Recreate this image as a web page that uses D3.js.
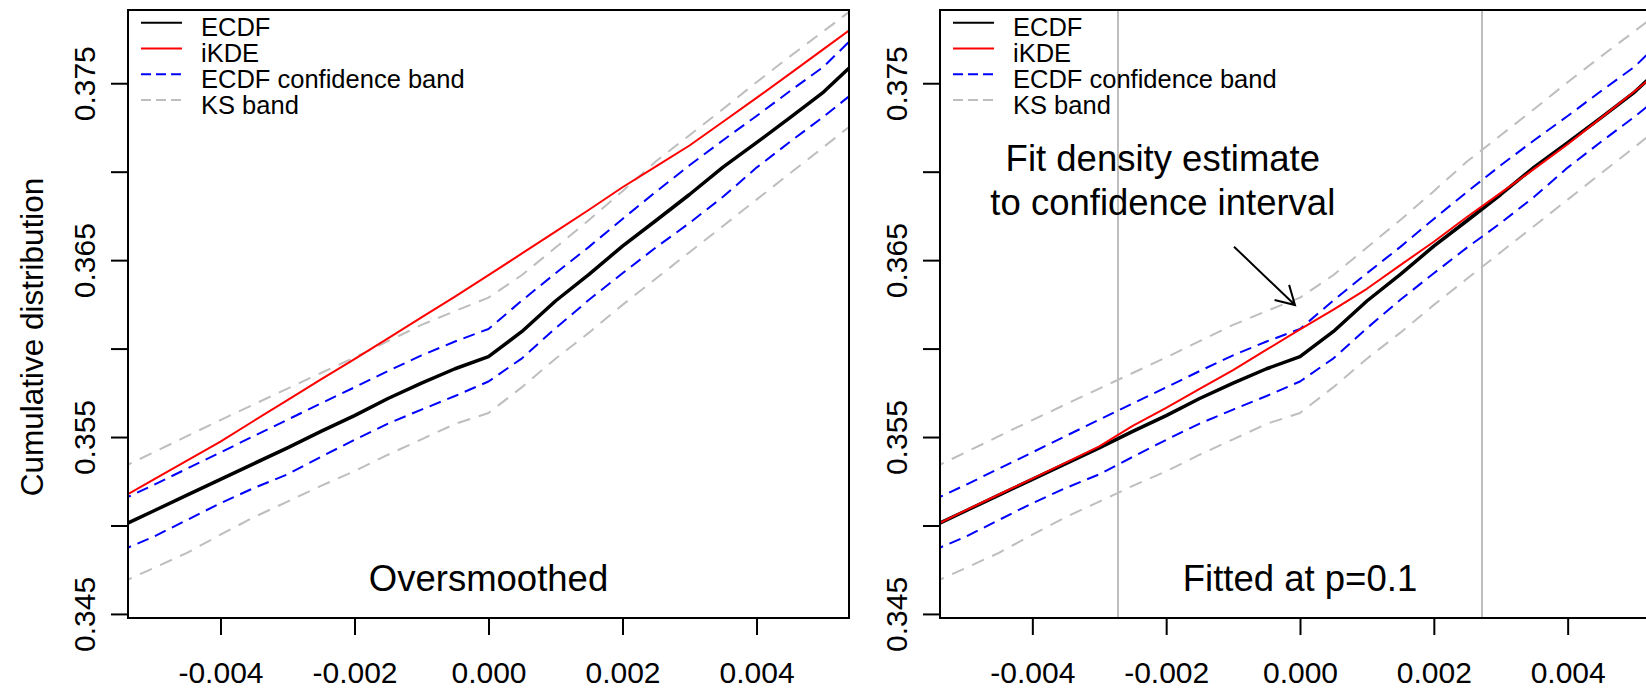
<!DOCTYPE html>
<html>
<head>
<meta charset="utf-8">
<script src="https://cdn.jsdelivr.net/npm/d3@7"></script>
<style>
  html, body { margin: 0; padding: 0; background: #fff; }
  svg { display: block; font-family: 'Liberation Sans', Arial, Helvetica, sans-serif; }
</style>
</head>
<body>
<svg id="chart" width="1646" height="689"></svg>
<script>
// ------------------
// Data
// ------------------
const xGrid = [-0.0055, -0.005, -0.0045, -0.004, -0.0035, -0.003, -0.0025, -0.002, -0.0015, -0.001, -0.0005, 0,
  0.0005, 0.001, 0.0015, 0.002, 0.0025, 0.003, 0.0035, 0.004, 0.0045, 0.005, 0.0055]

const ecdf = [0.34993, 0.35082, 0.35172, 0.35261, 0.35350, 0.35439, 0.35532, 0.35621, 0.35718, 0.35805, 0.35886, 0.35954,
  0.36097, 0.36269, 0.36420, 0.36579, 0.36724, 0.36871, 0.37026, 0.37164, 0.37306, 0.37450, 0.37628]

const ikdeOversmoothed = [0.35151, 0.35259, 0.35366, 0.35474, 0.35592, 0.35709, 0.35826, 0.35941, 0.36058, 0.36176, 0.36294, 0.36415,
  0.36538, 0.36661, 0.36785, 0.36912, 0.37030, 0.37148, 0.37282, 0.37417, 0.37554, 0.37693, 0.37831]

const ikdeFitted = [0.34993, 0.35085, 0.35175, 0.35265, 0.35355, 0.35447, 0.35563, 0.35665, 0.35772, 0.35878, 0.35994, 0.36108,
  0.36220, 0.36338, 0.36472, 0.36604, 0.36745, 0.36880, 0.37016, 0.37155, 0.37304, 0.37455, 0.37606]

const ciUpper = [0.35140, 0.35229, 0.35321, 0.35413, 0.35506, 0.35598, 0.35690, 0.35781, 0.35873, 0.35962, 0.36040, 0.36111,
  0.36272, 0.36426, 0.36575, 0.36733, 0.36887, 0.37036, 0.37178, 0.37315, 0.37456, 0.37593, 0.37779]

const ciLower = [0.34856, 0.34936, 0.35031, 0.35126, 0.35212, 0.35289, 0.35388, 0.35484, 0.35576, 0.35655, 0.35732, 0.35814,
  0.35945, 0.36115, 0.36276, 0.36426, 0.36572, 0.36710, 0.36858, 0.37023, 0.37169, 0.37311, 0.37462]

const ksUpper = [0.35322, 0.35413, 0.35505, 0.35596, 0.35685, 0.35774, 0.35862, 0.35950, 0.36042, 0.36134, 0.36212, 0.36288,
  0.36416, 0.36571, 0.36727, 0.36890, 0.37059, 0.37206, 0.37354, 0.37506, 0.37652, 0.37794, 0.37937]

const ksLower = [0.34674, 0.34759, 0.34845, 0.34948, 0.35047, 0.35135, 0.35224, 0.35307, 0.35400, 0.35487, 0.35574, 0.35636,
  0.35782, 0.35943, 0.36090, 0.36247, 0.36396, 0.36545, 0.36693, 0.36842, 0.36991, 0.37139, 0.37288]

const xTicks = [-0.004, -0.002, 0, 0.002, 0.004]
const yTicks = [0.345, 0.35, 0.355, 0.36, 0.365, 0.37, 0.375]
const yLabelled = [0.345, 0.355, 0.365, 0.375]
const fitWindow = [-0.00272, 0.00272]
const legendLabels = ['ECDF', 'iKDE', 'ECDF confidence band', 'KS band']
const annotation = ['Fit density estimate', 'to confidence interval']
const arrowFrom = [-0.000986, 0.36576]
const arrowTo = [-0.000075, 0.36246]

// ------------------
// Layout
// ------------------
const svg = d3.select('#chart')
const plotTop = 10
const plotBottom = 618

const y = d3.scaleLinear()
  .domain([0.34477, 0.37914])
  .range([plotBottom, plotTop])

const styles = {
  ecdf: { color: '#000000', width: 3.5, dash: null },
  ikde: { color: '#ff0000', width: 2, dash: null },
  ci: { color: '#0000ff', width: 2, dash: '12,7' },
  ks: { color: '#bebebe', width: 2, dash: '13,9' }
}

function drawPanel(opts) {
  const { id, left, right, ikde, label, showTitle, fitLines, note } = opts

  const x = d3.scaleLinear()
    .domain([-0.00538, 0.00538])
    .range([left, right])

  svg.append('clipPath')
    .attr('id', 'clip-' + id)
    .append('rect')
    .attr('x', left)
    .attr('y', plotTop)
    .attr('width', right - left)
    .attr('height', plotBottom - plotTop)

  const plot = svg.append('g').attr('clip-path', `url(#clip-${id})`)

  // fit window markers
  if (fitLines) {
    plot.selectAll('.fit-line')
      .data(fitWindow)
      .enter()
      .append('line')
      .attr('x1', d => x(d))
      .attr('x2', d => x(d))
      .attr('y1', plotTop)
      .attr('y2', plotBottom)
      .attr('stroke', '#bebebe')
      .attr('stroke-width', 2)
  }

  const line = d3.line()
    .x((d, i) => x(xGrid[i]))
    .y(d => y(d))

  const series = [
    { values: ksUpper, style: styles.ks },
    { values: ksLower, style: styles.ks },
    { values: ciUpper, style: styles.ci },
    { values: ciLower, style: styles.ci },
    { values: ecdf, style: styles.ecdf },
    { values: ikde, style: styles.ikde }
  ]

  series.forEach(s => {
    plot.append('path')
      .datum(s.values)
      .attr('fill', 'none')
      .attr('stroke', s.style.color)
      .attr('stroke-width', s.style.width)
      .attr('stroke-dasharray', s.style.dash)
      .attr('stroke-linejoin', 'round')
      .attr('d', line)
  })

  // ------------------
  // Box + axes
  // ------------------
  svg.append('rect')
    .attr('x', left)
    .attr('y', plotTop)
    .attr('width', right - left)
    .attr('height', plotBottom - plotTop)
    .attr('fill', 'none')
    .attr('stroke', '#000')
    .attr('stroke-width', 2)

  const xAxis = svg.append('g')
    .attr('transform', `translate(0,${plotBottom})`)
    .call(d3.axisBottom(x)
      .tickValues(xTicks)
      .tickSize(17)
      .tickFormat(d => d === 0 ? '0.000' : d.toFixed(3)))

  xAxis.select('.domain').remove()
  xAxis.selectAll('line').attr('stroke-width', 2)
  xAxis.selectAll('text')
    .attr('y', 65)
    .attr('dy', 0)
    .attr('font-size', 30)
    .attr('font-family', null)
    .attr('fill', '#000')

  const yAxis = svg.append('g')
    .attr('transform', `translate(${left},0)`)
    .call(d3.axisLeft(y)
      .tickValues(yTicks)
      .tickSize(17)
      .tickFormat(d => yLabelled.some(v => Math.abs(v - d) < 1e-9) ? d.toFixed(3) : ''))

  yAxis.select('.domain').remove()
  yAxis.selectAll('line').attr('stroke-width', 2)
  yAxis.selectAll('text')
    .attr('transform', 'rotate(-90)')
    .attr('x', 0)
    .attr('y', -33)
    .attr('dy', 0)
    .attr('text-anchor', 'middle')
    .attr('font-size', 30)
    .attr('font-family', null)
    .attr('fill', '#000')

  if (showTitle) {
    svg.append('text')
      .attr('transform', 'translate(43,337) rotate(-90)')
      .attr('text-anchor', 'middle')
      .attr('font-size', 31.5)
      .text('Cumulative distribution')
  }

  // ------------------
  // Legend
  // ------------------
  const legendStyles = [styles.ecdf, styles.ikde, styles.ci, styles.ks]
  const legend = svg.append('g')
    .attr('transform', `translate(${left + 13}, 22.7)`)

  legendLabels.forEach((name, i) => {
    const st = legendStyles[i]
    legend.append('line')
      .attr('x1', 0)
      .attr('x2', 41)
      .attr('y1', i * 25.8)
      .attr('y2', i * 25.8)
      .attr('stroke', st.color)
      .attr('stroke-width', 2)
      .attr('stroke-dasharray', st.dash ? '10,5' : null)

    legend.append('text')
      .attr('x', 60)
      .attr('y', i * 25.8 + 13.5)
      .attr('font-size', 25.5)
      .text(name)
  })

  // panel label
  svg.append('text')
    .attr('x', x(0))
    .attr('y', 591)
    .attr('text-anchor', 'middle')
    .attr('font-size', 36.5)
    .text(label)

  // ------------------
  // Annotation + arrow
  // ------------------
  if (note) {
    svg.selectAll('.note')
      .data(annotation)
      .enter()
      .append('text')
      .attr('x', x(-0.00205))
      .attr('y', (d, i) => 171 + i * 44)
      .attr('text-anchor', 'middle')
      .attr('font-size', 36.5)
      .text(d => d)

    const x0 = x(arrowFrom[0]), y0 = y(arrowFrom[1])
    const x1 = x(arrowTo[0]), y1 = y(arrowTo[1])
    const ang = Math.atan2(y1 - y0, x1 - x0)
    const len = 21
    const head = Math.PI / 6
    const p = d3.path()
    p.moveTo(x0, y0)
    p.lineTo(x1, y1)
    p.moveTo(x1 - len * Math.cos(ang - head), y1 - len * Math.sin(ang - head))
    p.lineTo(x1, y1)
    p.lineTo(x1 - len * Math.cos(ang + head), y1 - len * Math.sin(ang + head))

    svg.append('path')
      .attr('d', p.toString())
      .attr('fill', 'none')
      .attr('stroke', '#000')
      .attr('stroke-width', 2)
  }
}

drawPanel({ id: 'left', left: 128, right: 849, ikde: ikdeOversmoothed, label: 'Oversmoothed', showTitle: true, fitLines: false, note: false })
drawPanel({ id: 'right', left: 940, right: 1660, ikde: ikdeFitted, label: 'Fitted at p=0.1', showTitle: false, fitLines: true, note: true })
</script>
</body>
</html>
